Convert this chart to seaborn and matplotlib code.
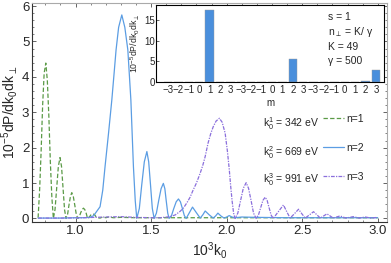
import numpy as np
import pandas as pd
import seaborn as sns
import matplotlib.pyplot as plt
from matplotlib.ticker import MultipleLocator

# ---- data ----
# n = 1 (green dashed)
k_n1 = [0.752, 0.762, 0.772, 0.782, 0.792, 0.803, 0.813, 0.823, 0.833, 0.843, 0.853,
        0.864, 0.875, 0.886, 0.897, 0.907, 0.917, 0.927, 0.937,
        0.947, 0.956, 0.966, 0.975, 0.985, 0.995, 1.005, 1.015,
        1.024, 1.033, 1.043, 1.052, 1.061, 1.070, 1.077, 1.083,
        1.093, 1.103, 1.114, 1.125, 1.135, 1.146, 1.162,
        1.18, 1.20, 1.22, 1.25, 1.30, 1.40, 1.60, 1.80, 2.00, 2.20, 2.40, 2.60, 2.80, 3.00]
p_n1 = [0.02, 0.8, 1.9, 3.2, 4.1, 4.39, 3.9, 2.9, 1.6, 0.6, 0.0,
        0.25, 0.86, 1.47, 1.72, 1.47, 0.86, 0.25, 0.0,
        0.11, 0.37, 0.62, 0.73, 0.62, 0.37, 0.11, 0.0,
        0.04, 0.15, 0.25, 0.29, 0.25, 0.15, 0.04, 0.0,
        0.05, 0.11, 0.13, 0.11, 0.05, 0.02, 0.01,
        0.04, 0.02, 0.04, 0.02, 0.03, 0.02, 0.02, 0.02, 0.02, 0.02, 0.02, 0.02, 0.02, 0.02]

# n = 2 (blue solid)
k_n2 = [0.752, 0.90, 1.00, 1.05, 1.096, 1.12, 1.14, 1.162, 1.18, 1.195, 1.218, 1.240,
        1.255, 1.268, 1.285, 1.306, 1.326, 1.346, 1.366, 1.383, 1.395, 1.405,
        1.422, 1.438, 1.455, 1.472, 1.484, 1.496, 1.508, 1.520,
        1.535, 1.550, 1.566, 1.581, 1.591, 1.600, 1.610, 1.619,
        1.635, 1.650, 1.666, 1.681, 1.694, 1.707, 1.720, 1.732,
        1.753, 1.774, 1.800, 1.825, 1.842, 1.858, 1.885, 1.911,
        1.927, 1.942, 1.962, 1.983, 2.000, 2.017, 2.035, 2.056,
        2.10, 2.20, 2.40, 2.60, 2.80, 3.00]
p_n2 = [0.01, 0.01, 0.02, 0.02, 0.03, 0.08, 0.2, 0.33, 0.8, 1.46, 2.4, 3.35,
        4.1, 4.76, 5.4, 5.75, 5.4, 4.76, 3.35, 1.46, 0.5, 0.0,
        0.28, 0.95, 1.6, 1.89, 1.6, 0.95, 0.28, 0.0,
        0.15, 0.5, 0.84, 0.99, 0.84, 0.5, 0.15, 0.0,
        0.08, 0.28, 0.47, 0.55, 0.47, 0.28, 0.08, 0.0,
        0.16, 0.32, 0.16, 0.01, 0.1, 0.21, 0.1, 0.01,
        0.07, 0.15, 0.07, 0.01, 0.04, 0.08, 0.04, 0.02,
        0.04, 0.03, 0.02, 0.02, 0.02, 0.02]

# n = 3 (purple dash-dot)
k_n3 = [0.752, 0.90, 1.05, 1.20, 1.30, 1.40, 1.50, 1.56, 1.626, 1.66, 1.692, 1.715,
        1.738, 1.758, 1.778, 1.80, 1.825, 1.842, 1.858, 1.877, 1.895, 1.911, 1.93,
        1.952, 1.97, 1.99, 2.005, 2.017, 2.027, 2.036, 2.046, 2.056,
        2.074, 2.092, 2.110, 2.129, 2.145, 2.162, 2.178, 2.195,
        2.210, 2.225, 2.240, 2.255, 2.268, 2.281, 2.295, 2.308,
        2.342, 2.376, 2.398, 2.420, 2.448, 2.476, 2.498, 2.520,
        2.548, 2.575, 2.598, 2.620, 2.642, 2.664, 2.685, 2.705,
        2.750, 2.790, 2.838, 2.878, 2.917, 2.957, 2.997]
p_n3 = [0.01, 0.01, 0.02, 0.04, 0.05, 0.03, 0.02, 0.02, 0.05, 0.1, 0.2, 0.3,
        0.45, 0.6, 0.8, 1.0, 1.28, 1.5, 1.75, 2.13, 2.4, 2.59, 2.75,
        2.83, 2.72, 2.41, 1.9, 1.4, 0.9, 0.5, 0.15, 0.0,
        0.15, 0.5, 0.85, 1.01, 0.85, 0.5, 0.15, 0.0,
        0.09, 0.3, 0.51, 0.6, 0.51, 0.3, 0.09, 0.0,
        0.19, 0.38, 0.19, 0.01, 0.13, 0.26, 0.13, 0.01,
        0.1, 0.19, 0.1, 0.01, 0.07, 0.13, 0.07, 0.01,
        0.07, 0.01, 0.05, 0.01, 0.04, 0.01, 0.03]

# inset bars: three groups of m = -3..3
m_ticks = [-3, -2, -1, 0, 1, 2, 3]
bars_n1 = [0, 0, 0, 0, 17.4, 0, 0]
bars_n2 = [0, 0, 0, 0, 0, 5.6, 0]
bars_n3 = [0, 0, 0, 0, 0, 0.15, 2.9]

energy_labels = ["342", "669", "991"]

c_green = "#5a9a46"
c_blue = "#5b9de3"
c_purple = "#8a6fdc"
c_bar = "#4a8fdc"

sns.set_style("ticks")
plt.rcParams["font.family"] = ["Liberation Sans", "DejaVu Sans"]
plt.rcParams["mathtext.default"] = "regular"

fig = plt.figure(figsize=(3.91, 2.63), dpi=100)
ax = fig.add_axes([0.082, 0.156, 0.908, 0.833])

sns.lineplot(x=k_n1, y=p_n1, ax=ax, color=c_green, lw=0.9, linestyle=(0, (3.5, 1.8)), label="n=1")
sns.lineplot(x=k_n2, y=p_n2, ax=ax, color=c_blue, lw=0.9, label="n=2")
sns.lineplot(x=k_n3, y=p_n3, ax=ax, color=c_purple, lw=0.9, linestyle=(0, (3, 1, 1, 1)), label="n=3")

ax.set_xlim(0.712, 3.062)
ax.set_ylim(-0.1, 6.09)
ax.xaxis.set_major_locator(MultipleLocator(0.5))
ax.xaxis.set_minor_locator(MultipleLocator(0.1))
ax.yaxis.set_major_locator(MultipleLocator(1))
ax.yaxis.set_minor_locator(MultipleLocator(0.2))
ax.xaxis.set_major_formatter(plt.FormatStrFormatter("%.1f"))
ax.tick_params(which="both", direction="in", top=True, right=True, labelsize=9.5, pad=2)
ax.tick_params(which="major", length=3, width=0.5)
ax.tick_params(which="minor", length=1.5, width=0.4)
for s in ["left", "bottom"]:
    ax.spines[s].set_color("#333333")
for s in ["top", "right"]:
    ax.spines[s].set_color("#aaaaaa")
for s in ax.spines.values():
    s.set_linewidth(0.8)
ax.set_xlabel("10$^3$k$_0$", fontsize=10, labelpad=2)
ax.set_ylabel("10$^{-5}$dP/dk$_0$dk$_\\perp$", fontsize=10, labelpad=1)

ax.legend(loc="upper left", bbox_to_anchor=(0.82, 0.495), frameon=False, fontsize=7.5,
          handlelength=2.0, handletextpad=0.2, labelspacing=1.85, borderpad=0, borderaxespad=0)
for i, (lab, yy) in enumerate(zip(energy_labels, [0.447, 0.315, 0.192])):
    ax.text(0.651, yy, "k$_0^{%d}$ = %s eV" % (i + 1, lab), transform=ax.transAxes,
            fontsize=7.5, va="center", ha="left")

# inset
axin = fig.add_axes([0.399, 0.688, 0.583, 0.293])
df = pd.DataFrame({"pos": list(range(21)), "val": bars_n1 + bars_n2 + bars_n3})
sns.barplot(data=df, x="pos", y="val", ax=axin, color=c_bar, saturation=1,
            width=0.8, edgecolor="#999999", linewidth=0.3)
axin.set_xlim(-1.15, 20.77)
axin.set_ylim(0, 18.6)
axin.set_xticks(range(21))
axin.set_xticklabels([str(m).replace("-", "\u2212") for m in m_ticks * 3], fontsize=7)
axin.set_yticks([0, 5, 10, 15])
axin.tick_params(axis="y", direction="in", length=2, width=0.5, labelsize=7, pad=1)
axin.tick_params(axis="x", length=0, labelsize=7, pad=2)
axin.set_xlabel("m", fontsize=7, labelpad=2)
axin.set_ylabel("10$^{-5}$dP/dk$_0$dk$_\\perp$", fontsize=6.3, labelpad=1)
for s in axin.spines.values():
    s.set_visible(True)
    s.set_color("black")
    s.set_linewidth(0.8)

for txt, yy in zip(["s = 1", "n$_\\perp$ = K/ \u03b3", "K = 49", "\u03b3 = 500"],
                   [0.844, 0.649, 0.461, 0.273]):
    axin.text(0.754, yy, txt, transform=axin.transAxes, fontsize=7.5, va="center", ha="left")

fig.savefig("out.png", dpi=100)
